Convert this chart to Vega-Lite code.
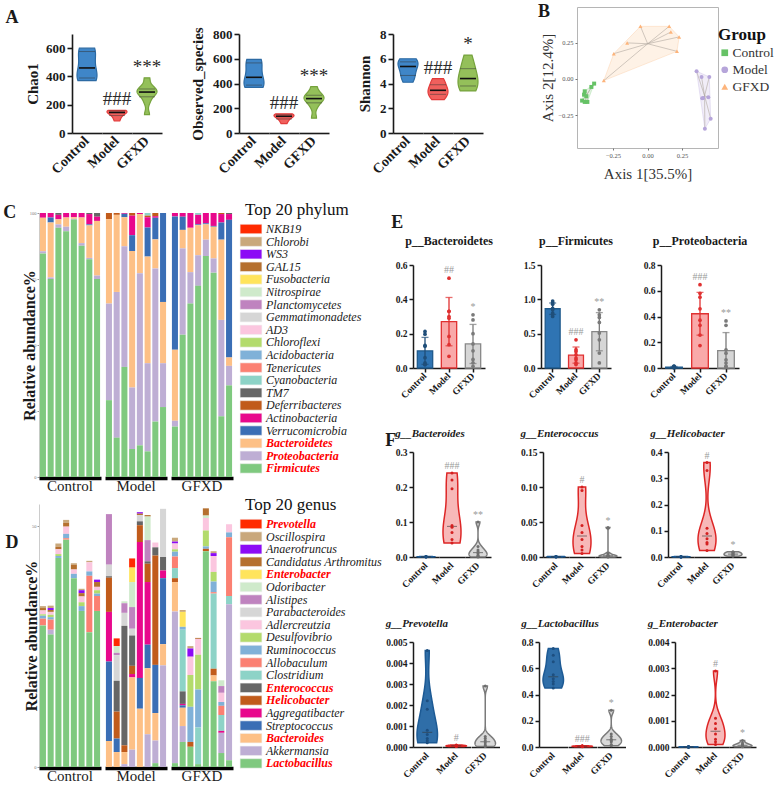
{
  "$schema": "https://vega.github.io/schema/vega-lite/v6.json",
  "background": "#ffffff",
  "padding": {"left": 3, "top": 2, "right": 0, "bottom": 0},
  "config": {
    "font": "Liberation Serif",
    "view": {"stroke": null},
    "axis": {"grid": false, "labelOverlap": false, "labelFont": "Liberation Serif", "titleFont": "Liberation Serif", "domainColor": "#1a1a1a", "tickColor": "#1a1a1a", "labelColor": "#1a1a1a", "titleColor": "#1a1a1a"},
    "header": {"labelFont": "Liberation Serif", "labelColor": "#1a1a1a"},
    "title": {"font": "Liberation Serif", "fontWeight": "bold", "color": "#1a1a1a"},
    "legend": {"labelFont": "Liberation Serif", "titleFont": "Liberation Serif"}
  },
  "datasets": {
    "alpha": [
      {"p": "Chao1", "g": "Control", "v": [370, 380, 392, 425, 495, 572, 588, 600]},
      {"p": "Chao1", "g": "Model", "sig": "###", "v": [85, 110, 128, 140, 150, 155, 158, 160]},
      {"p": "Chao1", "g": "GFXD", "sig": "***", "v": [130, 220, 268, 284, 295, 305, 330, 390]},
      {"p": "Observed_species", "g": "Control", "v": [368, 378, 390, 420, 480, 560, 585, 595]},
      {"p": "Observed_species", "g": "Model", "sig": "###", "v": [75, 100, 118, 130, 140, 146, 150, 155]},
      {"p": "Observed_species", "g": "GFXD", "sig": "***", "v": [120, 210, 255, 272, 284, 300, 320, 375]},
      {"p": "Shannon", "g": "Control", "v": [4.1, 4.5, 4.7, 5.3, 5.45, 5.7, 5.9, 6.0]},
      {"p": "Shannon", "g": "Model", "sig": "###", "v": [2.7, 2.9, 3.2, 3.4, 3.5, 3.8, 4.2, 4.4]},
      {"p": "Shannon", "g": "GFXD", "sig": "*", "v": [3.4, 3.5, 3.9, 4.3, 4.5, 5.1, 5.5, 6.3]}
    ],
    "pcoa": [
      {"g": "Control", "x": -0.386, "y": -0.032}, {"g": "Control", "x": -0.406, "y": -0.055},
      {"g": "Control", "x": -0.454, "y": -0.085}, {"g": "Control", "x": -0.459, "y": -0.108},
      {"g": "Control", "x": -0.442, "y": -0.119}, {"g": "Control", "x": -0.473, "y": -0.149},
      {"g": "Control", "x": -0.454, "y": -0.158}, {"g": "Control", "x": -0.435, "y": -0.158},
      {"g": "Model", "x": 0.355, "y": 0.053}, {"g": "Model", "x": 0.391, "y": 0.014},
      {"g": "Model", "x": 0.447, "y": 0.014}, {"g": "Model", "x": 0.403, "y": -0.131},
      {"g": "Model", "x": 0.44, "y": -0.126}, {"g": "Model", "x": 0.457, "y": -0.273},
      {"g": "Model", "x": 0.415, "y": -0.342}, {"g": "Model", "x": 0.396, "y": -0.133},
      {"g": "GFXD", "x": -0.051, "y": 0.362}, {"g": "GFXD", "x": 0.157, "y": 0.362},
      {"g": "GFXD", "x": 0.169, "y": 0.323}, {"g": "GFXD", "x": 0.229, "y": 0.289},
      {"g": "GFXD", "x": -0.147, "y": 0.248}, {"g": "GFXD", "x": -0.244, "y": 0.174},
      {"g": "GFXD", "x": 0.213, "y": 0.19}, {"g": "GFXD", "x": -0.316, "y": -0.011}
    ],
    "hull": [
      {"g": "Control", "i": 1, "x": -0.386, "y": -0.032}, {"g": "Control", "i": 2, "x": -0.454, "y": -0.085},
      {"g": "Control", "i": 3, "x": -0.473, "y": -0.149}, {"g": "Control", "i": 4, "x": -0.454, "y": -0.158},
      {"g": "Control", "i": 5, "x": -0.435, "y": -0.158}, {"g": "Control", "i": 6, "x": -0.386, "y": -0.032},
      {"g": "Model", "i": 1, "x": 0.355, "y": 0.053}, {"g": "Model", "i": 2, "x": 0.415, "y": -0.342},
      {"g": "Model", "i": 3, "x": 0.457, "y": -0.273}, {"g": "Model", "i": 4, "x": 0.447, "y": 0.014},
      {"g": "Model", "i": 5, "x": 0.355, "y": 0.053},
      {"g": "GFXD", "i": 1, "x": -0.316, "y": -0.011}, {"g": "GFXD", "i": 2, "x": 0.213, "y": 0.19},
      {"g": "GFXD", "i": 3, "x": 0.229, "y": 0.289}, {"g": "GFXD", "i": 4, "x": 0.157, "y": 0.362},
      {"g": "GFXD", "i": 5, "x": -0.051, "y": 0.362}, {"g": "GFXD", "i": 6, "x": -0.244, "y": 0.174},
      {"g": "GFXD", "i": 7, "x": -0.316, "y": -0.011}
    ],
    "phylumRank": [
      {"taxon": "Firmicutes", "r": 1}, {"taxon": "Proteobacteria", "r": 2}, {"taxon": "Bacteroidetes", "r": 3},
      {"taxon": "Verrucomicrobia", "r": 4}, {"taxon": "Actinobacteria", "r": 5}, {"taxon": "Deferribacteres", "r": 6},
      {"taxon": "TM7", "r": 7}, {"taxon": "Cyanobacteria", "r": 8}, {"taxon": "Tenericutes", "r": 9},
      {"taxon": "Acidobacteria", "r": 10}, {"taxon": "Chloroflexi", "r": 11}, {"taxon": "AD3", "r": 12},
      {"taxon": "Gemmatimonadetes", "r": 13}, {"taxon": "Planctomycetes", "r": 14}, {"taxon": "Nitrospirae", "r": 15},
      {"taxon": "Fusobacteria", "r": 16}, {"taxon": "GAL15", "r": 17}, {"taxon": "WS3", "r": 18},
      {"taxon": "Chlorobi", "r": 19}, {"taxon": "NKB19", "r": 20}
    ],
    "genusRank": [
      {"taxon": "Lactobacillus", "r": 1}, {"taxon": "Akkermansia", "r": 2}, {"taxon": "Bacteroides", "r": 3},
      {"taxon": "Streptococcus", "r": 4}, {"taxon": "Aggregatibacter", "r": 5}, {"taxon": "Helicobacter", "r": 6},
      {"taxon": "Enterococcus", "r": 7}, {"taxon": "Clostridium", "r": 8}, {"taxon": "Allobaculum", "r": 9},
      {"taxon": "Ruminococcus", "r": 10}, {"taxon": "Desulfovibrio", "r": 11}, {"taxon": "Adlercreutzia", "r": 12},
      {"taxon": "Parabacteroides", "r": 13}, {"taxon": "Alistipes", "r": 14}, {"taxon": "Odoribacter", "r": 15},
      {"taxon": "Enterobacter", "r": 16}, {"taxon": "Candidatus Arthromitus", "r": 17}, {"taxon": "Anaerotruncus", "r": 18},
      {"taxon": "Oscillospira", "r": 19}, {"taxon": "Prevotella", "r": 20}
    ],
    "phylum": [
      {"s": "C1", "grp": "Control", "Firmicutes": 84.7, "Proteobacteria": 0.8, "Bacteroidetes": 12.7, "Actinobacteria": 1.8},
      {"s": "C2", "grp": "Control", "Firmicutes": 75.0, "Proteobacteria": 0.6, "Bacteroidetes": 20.8, "Verrucomicrobia": 1.9, "Actinobacteria": 1.7},
      {"s": "C3", "grp": "Control", "Firmicutes": 94.4, "Proteobacteria": 1.3, "Bacteroidetes": 1.9, "Actinobacteria": 1.7, "TM7": 0.7},
      {"s": "C4", "grp": "Control", "Firmicutes": 93.1, "Proteobacteria": 1.7, "Bacteroidetes": 3.5, "Actinobacteria": 1.7},
      {"s": "C5", "grp": "Control", "Firmicutes": 97.5, "Proteobacteria": 0.3, "Bacteroidetes": 0.6, "Actinobacteria": 1.6},
      {"s": "C6", "grp": "Control", "Firmicutes": 87.6, "Proteobacteria": 1.0, "Bacteroidetes": 9.7, "Actinobacteria": 1.7},
      {"s": "C7", "grp": "Control", "Firmicutes": 82.5, "Proteobacteria": 0.5, "Bacteroidetes": 12.3, "Verrucomicrobia": 0.4, "Actinobacteria": 3.9, "TM7": 0.4},
      {"s": "C8", "grp": "Control", "Firmicutes": 75.0, "Proteobacteria": 1.3, "Bacteroidetes": 20.7, "Actinobacteria": 1.6, "TM7": 1.4},
      {"s": "M1", "grp": "Model", "Firmicutes": 29.1, "Proteobacteria": 36.6, "Bacteroidetes": 32.0, "Deferribacteres": 2.3},
      {"s": "M2", "grp": "Model", "Firmicutes": 14.9, "Proteobacteria": 55.2, "Bacteroidetes": 29.2, "Deferribacteres": 0.7},
      {"s": "M3", "grp": "Model", "Firmicutes": 41.7, "Proteobacteria": 45.7, "Bacteroidetes": 11.0, "Verrucomicrobia": 1.3, "Actinobacteria": 0.3},
      {"s": "M4", "grp": "Model", "Firmicutes": 10.6, "Proteobacteria": 23.3, "Bacteroidetes": 51.7, "Verrucomicrobia": 6.0, "Actinobacteria": 7.4, "Deferribacteres": 1.0},
      {"s": "M5", "grp": "Model", "Firmicutes": 12.0, "Proteobacteria": 65.2, "Bacteroidetes": 22.4, "Actinobacteria": 0.4},
      {"s": "M6", "grp": "Model", "Firmicutes": 9.7, "Proteobacteria": 33.4, "Bacteroidetes": 40.4, "Verrucomicrobia": 11.0, "Actinobacteria": 3.9, "Cyanobacteria": 1.0, "Deferribacteres": 0.6},
      {"s": "M7", "grp": "Model", "Firmicutes": 21.0, "Proteobacteria": 58.0, "Bacteroidetes": 11.0, "Verrucomicrobia": 8.2, "Actinobacteria": 0.6, "Deferribacteres": 1.2},
      {"s": "M8", "grp": "Model", "Firmicutes": 26.5, "Proteobacteria": 16.6, "Bacteroidetes": 23.2, "Verrucomicrobia": 33.7},
      {"s": "G1", "grp": "GFXD", "Firmicutes": 19.1, "Proteobacteria": 2.2, "Bacteroidetes": 26.9, "Verrucomicrobia": 50.5, "Actinobacteria": 1.3},
      {"s": "G2", "grp": "GFXD", "Firmicutes": 53.9, "Proteobacteria": 32.7, "Bacteroidetes": 7.0, "Verrucomicrobia": 5.0, "Actinobacteria": 1.4},
      {"s": "G3", "grp": "GFXD", "Firmicutes": 65.7, "Proteobacteria": 11.9, "Bacteroidetes": 16.8, "Actinobacteria": 5.6},
      {"s": "G4", "grp": "GFXD", "Firmicutes": 72.4, "Proteobacteria": 11.6, "Bacteroidetes": 11.4, "Verrucomicrobia": 0.3, "Actinobacteria": 3.6, "Cyanobacteria": 0.7},
      {"s": "G5", "grp": "GFXD", "Firmicutes": 83.7, "Proteobacteria": 6.2, "Bacteroidetes": 5.8, "Verrucomicrobia": 0.4, "Actinobacteria": 3.9},
      {"s": "G6", "grp": "GFXD", "Firmicutes": 77.4, "Proteobacteria": 5.4, "Bacteroidetes": 12.0, "Verrucomicrobia": 0.3, "Actinobacteria": 4.9},
      {"s": "G7", "grp": "GFXD", "Firmicutes": 23.0, "Proteobacteria": 36.5, "Bacteroidetes": 30.4, "Verrucomicrobia": 6.5, "Actinobacteria": 3.2, "Deferribacteres": 0.4},
      {"s": "G8", "grp": "GFXD", "Firmicutes": 34.7, "Proteobacteria": 7.4, "Bacteroidetes": 3.2, "Verrucomicrobia": 52.1, "Actinobacteria": 2.2, "TM7": 0.4}
    ],
    "genus": [
      {"s": "C1", "grp": "Control", "Lactobacillus": 29.4, "Allobaculum": 1.4, "Ruminococcus": 0.6, "Desulfovibrio": 0.3, "Adlercreutzia": 0.8, "Candidatus Arthromitus": 0.5, "Oscillospira": 0.4},
      {"s": "C2", "grp": "Control", "Lactobacillus": 27.5, "Akkermansia": 1.0, "Allobaculum": 2.1, "Ruminococcus": 0.5, "Desulfovibrio": 0.5, "Adlercreutzia": 0.6, "Candidatus Arthromitus": 0.4, "Anaerotruncus": 0.4, "Oscillospira": 0.5},
      {"s": "C3", "grp": "Control", "Lactobacillus": 43.4, "Ruminococcus": 0.4, "Desulfovibrio": 0.4, "Adlercreutzia": 1.0, "Candidatus Arthromitus": 0.5, "Oscillospira": 0.7},
      {"s": "C4", "grp": "Control", "Lactobacillus": 47.2, "Allobaculum": 0.3, "Ruminococcus": 0.9, "Adlercreutzia": 1.5, "Candidatus Arthromitus": 0.8, "Oscillospira": 0.6},
      {"s": "C5", "grp": "Control", "Lactobacillus": 39.2, "Ruminococcus": 0.9, "Adlercreutzia": 0.9, "Candidatus Arthromitus": 1.0, "Oscillospira": 0.3},
      {"s": "C6", "grp": "Control", "Lactobacillus": 32.4, "Ruminococcus": 1.0, "Desulfovibrio": 0.8, "Adlercreutzia": 1.2, "Candidatus Arthromitus": 0.7, "Anaerotruncus": 0.6, "Oscillospira": 0.3},
      {"s": "C7", "grp": "Control", "Lactobacillus": 28.0, "Allobaculum": 11.7, "Ruminococcus": 0.9, "Adlercreutzia": 1.9, "Oscillospira": 0.3},
      {"s": "C8", "grp": "Control", "Lactobacillus": 32.4, "Allobaculum": 3.1, "Ruminococcus": 0.5, "Desulfovibrio": 0.7, "Adlercreutzia": 0.7, "Candidatus Arthromitus": 1.0, "Anaerotruncus": 0.5},
      {"s": "M1", "grp": "Model", "Bacteroides": 5.4, "Streptococcus": 16.5, "Aggregatibacter": 10.3, "Helicobacter": 7.1, "Enterococcus": 0.3, "Parabacteroides": 2.4, "Alistipes": 10.5},
      {"s": "M2", "grp": "Model", "Bacteroides": 3.1, "Streptococcus": 2.8, "Helicobacter": 5.6, "Enterococcus": 6.4, "Parabacteroides": 5.3, "Alistipes": 0.5, "Odoribacter": 1.4, "Prevotella": 1.6},
      {"s": "M3", "grp": "Model", "Akkermansia": 0.6, "Bacteroides": 2.5, "Helicobacter": 1.4, "Enterococcus": 24.8, "Parabacteroides": 2.7, "Alistipes": 2.0, "Odoribacter": 0.4},
      {"s": "M4", "grp": "Model", "Akkermansia": 3.6, "Bacteroides": 15.0, "Aggregatibacter": 0.7, "Helicobacter": 1.7, "Enterococcus": 6.3, "Parabacteroides": 1.4, "Alistipes": 4.5, "Odoribacter": 5.2, "Enterobacter": 3.0, "Prevotella": 1.9},
      {"s": "M5", "grp": "Model", "Bacteroides": 12.1, "Streptococcus": 6.4, "Aggregatibacter": 28.2, "Helicobacter": 3.5, "Enterococcus": 0.8, "Parabacteroides": 1.3, "Candidatus Arthromitus": 0.3, "Anaerotruncus": 0.3},
      {"s": "M6", "grp": "Model", "Akkermansia": 6.8, "Bacteroides": 13.7, "Streptococcus": 4.9, "Aggregatibacter": 13.0, "Helicobacter": 3.8, "Enterococcus": 0.5, "Alistipes": 4.4, "Odoribacter": 4.9, "Candidatus Arthromitus": 0.3},
      {"s": "M7", "grp": "Model", "Lactobacillus": 0.8, "Akkermansia": 4.7, "Bacteroides": 5.7, "Streptococcus": 10.0, "Helicobacter": 22.7, "Enterococcus": 1.7, "Adlercreutzia": 1.0},
      {"s": "M8", "grp": "Model", "Akkermansia": 21.1, "Bacteroides": 4.4, "Streptococcus": 13.7, "Aggregatibacter": 1.6, "Enterococcus": 2.8, "Parabacteroides": 10.0},
      {"s": "G1", "grp": "GFXD", "Lactobacillus": 0.8, "Akkermansia": 31.5, "Bacteroides": 6.1, "Helicobacter": 0.8, "Clostridium": 2.1, "Allobaculum": 2.4, "Ruminococcus": 1.0, "Desulfovibrio": 0.5, "Adlercreutzia": 1.2, "Anaerotruncus": 0.4, "Oscillospira": 0.8},
      {"s": "G2", "grp": "GFXD", "Lactobacillus": 5.2, "Akkermansia": 3.3, "Bacteroides": 3.8, "Streptococcus": 0.5, "Aggregatibacter": 0.3, "Enterococcus": 2.6, "Clostridium": 12.8, "Ruminococcus": 0.6, "Enterobacter": 3.1, "Oscillospira": 0.4},
      {"s": "G3", "grp": "GFXD", "Lactobacillus": 4.2, "Helicobacter": 1.0, "Ruminococcus": 7.3, "Desulfovibrio": 6.6, "Adlercreutzia": 3.8, "Anaerotruncus": 1.7, "Oscillospira": 0.5},
      {"s": "G4", "grp": "GFXD", "Lactobacillus": 0.6, "Clostridium": 7.6, "Ruminococcus": 7.9, "Desulfovibrio": 7.2, "Adlercreutzia": 3.3, "Candidatus Arthromitus": 0.2},
      {"s": "G5", "grp": "GFXD", "Lactobacillus": 44.8, "Helicobacter": 0.5, "Ruminococcus": 0.5, "Desulfovibrio": 3.3, "Adlercreutzia": 2.6, "Odoribacter": 0.5, "Candidatus Arthromitus": 1.5},
      {"s": "G6", "grp": "GFXD", "Lactobacillus": 17.8, "Bacteroides": 1.2, "Helicobacter": 1.4, "Clostridium": 15.6, "Allobaculum": 0.3, "Ruminococcus": 2.2, "Desulfovibrio": 2.0, "Adlercreutzia": 3.3, "Anaerotruncus": 0.6, "Oscillospira": 0.4},
      {"s": "G7", "grp": "GFXD", "Lactobacillus": 2.9, "Akkermansia": 4.2, "Aggregatibacter": 0.4, "Clostridium": 3.3, "Allobaculum": 1.9, "Ruminococcus": 0.8, "Adlercreutzia": 1.9, "Alistipes": 1.4, "Odoribacter": 1.2},
      {"s": "G8", "grp": "GFXD", "Lactobacillus": 1.4, "Akkermansia": 32.4, "Clostridium": 1.7, "Allobaculum": 12.2, "Ruminococcus": 1.0, "Adlercreutzia": 1.7}
    ],
    "rel": [
      {"p": "p__Bacteroidetes", "g": "Control", "v": [0.197, 0.213, 0.132, 0.126, 0.06, 0.03, 0.02, 0.02]},
      {"p": "p__Bacteroidetes", "g": "Model", "sig": "##", "v": [0.523, 0.33, 0.3, 0.29, 0.184, 0.136, 0.068, 0.33]},
      {"p": "p__Bacteroidetes", "g": "GFXD", "sig": "*", "v": [0.31, 0.28, 0.2, 0.14, 0.1, 0.05, 0.03, 0.01]},
      {"p": "p__Firmicutes", "g": "Control", "v": [0.93, 0.95, 0.975, 0.87, 0.85, 0.8, 0.75, 0.78]},
      {"p": "p__Firmicutes", "g": "Model", "sig": "###", "v": [0.411, 0.266, 0.242, 0.194, 0.145, 0.121, 0.073, 0.05]},
      {"p": "p__Firmicutes", "g": "GFXD", "sig": "**", "v": [0.847, 0.774, 0.736, 0.663, 0.508, 0.411, 0.218, 0.073]},
      {"p": "p__Proteobacteria", "g": "Control", "v": [0.015, 0.012, 0.01, 0.008, 0.005, 0.004, 0.003, 0.002]},
      {"p": "p__Proteobacteria", "g": "Model", "sig": "###", "v": [0.647, 0.58, 0.55, 0.46, 0.371, 0.332, 0.256, 0.174]},
      {"p": "p__Proteobacteria", "g": "GFXD", "sig": "**", "v": [0.366, 0.332, 0.141, 0.115, 0.064, 0.038, 0.013, 0.01]},
      {"p": "g__Bacteroides", "g": "Control", "v": [0.0002, 0.0004, 0.0005, 0.0006, 0.0008, 0.001, 0.0012, 0.0015]},
      {"p": "g__Bacteroides", "g": "Model", "sig": "###", "v": [0.04, 0.05, 0.07, 0.085, 0.09, 0.195, 0.22, 0.24]},
      {"p": "g__Bacteroides", "g": "GFXD", "sig": "**", "v": [0.0, 0.002, 0.005, 0.01, 0.015, 0.02, 0.03, 0.1]},
      {"p": "g__Enterococcus", "g": "Control", "v": [0.0001, 0.0002, 0.0003, 0.0004, 0.0005, 0.0006, 0.0007, 0.0008]},
      {"p": "g__Enterococcus", "g": "Model", "sig": "#", "v": [0.005, 0.01, 0.015, 0.025, 0.035, 0.045, 0.095, 0.1]},
      {"p": "g__Enterococcus", "g": "GFXD", "sig": "*", "v": [0.0, 0.0005, 0.001, 0.0015, 0.002, 0.003, 0.005, 0.042]},
      {"p": "g__Helicobacter", "g": "Control", "v": [0.0002, 0.0004, 0.0006, 0.0008, 0.001, 0.0012, 0.0014, 0.0016]},
      {"p": "g__Helicobacter", "g": "Model", "sig": "#", "v": [0.025, 0.05, 0.055, 0.07, 0.09, 0.11, 0.33, 0.36]},
      {"p": "g__Helicobacter", "g": "GFXD", "sig": "*", "v": [0.003, 0.005, 0.008, 0.01, 0.012, 0.015, 0.018, 0.02]},
      {"p": "g__Prevotella", "g": "Control", "v": [0.0002, 0.0003, 0.0004, 0.0006, 0.0008, 0.0018, 0.0022, 0.0046]},
      {"p": "g__Prevotella", "g": "Model", "sig": "#", "v": [0.00002, 0.00003, 0.00004, 0.00005, 0.00006, 0.00007, 0.00008, 0.0001]},
      {"p": "g__Prevotella", "g": "GFXD", "v": [0.00002, 0.00005, 0.0001, 0.0002, 0.0003, 0.0004, 0.0005, 0.0029]},
      {"p": "g__Lactobacillus", "g": "Control", "v": [0.45, 0.48, 0.5, 0.52, 0.55, 0.65, 0.7, 0.75]},
      {"p": "g__Lactobacillus", "g": "Model", "sig": "###", "v": [0.002, 0.003, 0.004, 0.005, 0.006, 0.007, 0.008, 0.01]},
      {"p": "g__Lactobacillus", "g": "GFXD", "sig": "*", "v": [0.01, 0.02, 0.04, 0.05, 0.06, 0.08, 0.1, 0.28]},
      {"p": "g_Enterobacter", "g": "Control", "v": [0.000001, 0.000002, 0.000003, 0.000004, 0.000005, 0.000006, 0.000007, 0.000008]},
      {"p": "g_Enterobacter", "g": "Model", "sig": "#", "v": [0.0001, 0.0002, 0.0003, 0.0005, 0.0007, 0.0009, 0.0011, 0.0029]},
      {"p": "g_Enterobacter", "g": "GFXD", "sig": "*", "v": [0.00001, 0.00002, 0.00003, 0.00005, 0.00008, 0.0001, 0.00015, 0.00025]}
    ]
  },
  "resolve": {"scale": {"color": "independent", "fill": "independent", "stroke": "independent", "shape": "independent"}},
  "columns": 1,
  "align": "none",
  "spacing": 20,
  "concat": [
    {
      "resolve": {"scale": {"color": "independent", "fill": "independent", "stroke": "independent", "shape": "independent"}},
      "columns": 2, "align": "none", "spacing": 1,
      "concat": [
        {"width": 1, "height": 1, "data": {"values": []}, "mark": {"type": "point", "opacity": 0}},
        {
          "resolve": {"scale": {"color": "independent", "fill": "independent", "stroke": "independent", "shape": "independent"}},
          "columns": 2, "align": "none", "spacing": 54,
          "concat": [
            {
              "columns": 1, "align": "none", "spacing": 0,
              "concat": [
                {"width": 1, "height": 1, "data": {"values": []}, "mark": {"type": "point", "opacity": 0}},
                {
                  "title": {"text": "A", "anchor": "start", "frame": "bounds", "fontSize": 18, "dx": -20, "offset": 0},
                  "columns": 3, "align": "none", "spacing": 28,
                  "concat": [
                    {
                      "data": {"name": "alpha"},
                      "transform": [{"filter": "datum.p == 'Chao1'"}, {"flatten": ["v"]}],
                      "facet": {"column": {"field": "g", "type": "nominal", "sort": ["Control", "Model", "GFXD"], "title": null,
                        "header": {"labelOrient": "bottom", "labelAngle": -45, "labelAlign": "right", "labelBaseline": "middle", "labelFontSize": 14, "labelFontWeight": "bold", "labelPadding": 6}}},
                      "spacing": 0,
                      "resolve": {"scale": {"x": "independent"}},
                      "spec": {
                        "width": 30, "height": 99,
                        "layer": [
                          {"transform": [{"density": "v", "groupby": ["g"], "as": ["v", "d"]}],
                           "mark": {"type": "area", "orient": "horizontal", "strokeWidth": 1.2},
                           "encoding": {
                             "y": {"field": "v", "type": "quantitative", "scale": {"domain": [0, 700], "nice": false},
                               "axis": {"title": "Chao1", "titleFontSize": 15, "titleFontWeight": "bold", "titlePadding": 5, "labelFontSize": 13, "labelFontWeight": "bold", "tickCount": 12, "values": [0, 200, 400, 600], "domainWidth": 1.6, "tickWidth": 1.6, "tickSize": 5, "labelPadding": 2}},
                             "x": {"field": "d", "type": "quantitative", "stack": "center", "impute": null, "scale": {"zero": false, "nice": false, "padding": 5},
                               "axis": {"title": null, "labels": false, "ticks": false, "domainWidth": 1.6}},
                             "fill": {"field": "g", "type": "nominal", "scale": {"domain": ["Control", "Model", "GFXD"], "range": ["#3f86c8", "#f0605d", "#94c05a"]}, "legend": null},
                             "stroke": {"field": "g", "type": "nominal", "scale": {"domain": ["Control", "Model", "GFXD"], "range": ["#2c6aa3", "#e23b3b", "#75a23c"]}, "legend": null}
                           }},
                          {"mark": {"type": "tick", "orient": "horizontal", "size": 16, "thickness": 1.6, "color": "#111"},
                           "encoding": {"y": {"aggregate": "median", "field": "v", "type": "quantitative"}}},
                          {"mark": {"type": "tick", "orient": "horizontal", "size": 16, "thickness": 1, "color": "#333", "opacity": 0.5},
                           "encoding": {"y": {"aggregate": "q1", "field": "v", "type": "quantitative"}}},
                          {"mark": {"type": "tick", "orient": "horizontal", "size": 16, "thickness": 1, "color": "#333", "opacity": 0.5},
                           "encoding": {"y": {"aggregate": "q3", "field": "v", "type": "quantitative"}}},
                          {"transform": [{"filter": "isValid(datum.sig)"}, {"aggregate": [{"op": "max", "field": "v", "as": "top"}], "groupby": ["g", "sig"]}],
                           "mark": {"type": "text", "baseline": "bottom", "dy": -1, "fontSize": 19, "color": "#2a2a2a"},
                           "encoding": {"y": {"field": "top", "type": "quantitative"}, "text": {"field": "sig", "type": "nominal"}}}
                        ]
                      }
                    },
                    {
                      "data": {"name": "alpha"},
                      "transform": [{"filter": "datum.p == 'Observed_species'"}, {"flatten": ["v"]}],
                      "facet": {"column": {"field": "g", "type": "nominal", "sort": ["Control", "Model", "GFXD"], "title": null,
                        "header": {"labelOrient": "bottom", "labelAngle": -45, "labelAlign": "right", "labelBaseline": "middle", "labelFontSize": 14, "labelFontWeight": "bold", "labelPadding": 6}}},
                      "spacing": 0,
                      "resolve": {"scale": {"x": "independent"}},
                      "spec": {
                        "width": 30, "height": 99,
                        "layer": [
                          {"transform": [{"density": "v", "groupby": ["g"], "as": ["v", "d"]}],
                           "mark": {"type": "area", "orient": "horizontal", "strokeWidth": 1.2},
                           "encoding": {
                             "y": {"field": "v", "type": "quantitative", "scale": {"domain": [0, 800], "nice": false},
                               "axis": {"title": "Observed_species", "titleFontSize": 15, "titleFontWeight": "bold", "titlePadding": 7, "labelFontSize": 13, "labelFontWeight": "bold", "tickCount": 12, "values": [0, 200, 400, 600, 800], "domainWidth": 1.6, "tickWidth": 1.6, "tickSize": 5, "labelPadding": 2}},
                             "x": {"field": "d", "type": "quantitative", "stack": "center", "impute": null, "scale": {"zero": false, "nice": false, "padding": 5},
                               "axis": {"title": null, "labels": false, "ticks": false, "domainWidth": 1.6}},
                             "fill": {"field": "g", "type": "nominal", "scale": {"domain": ["Control", "Model", "GFXD"], "range": ["#3f86c8", "#f0605d", "#94c05a"]}, "legend": null},
                             "stroke": {"field": "g", "type": "nominal", "scale": {"domain": ["Control", "Model", "GFXD"], "range": ["#2c6aa3", "#e23b3b", "#75a23c"]}, "legend": null}
                           }},
                          {"mark": {"type": "tick", "orient": "horizontal", "size": 16, "thickness": 1.6, "color": "#111"},
                           "encoding": {"y": {"aggregate": "median", "field": "v", "type": "quantitative"}}},
                          {"mark": {"type": "tick", "orient": "horizontal", "size": 16, "thickness": 1, "color": "#333", "opacity": 0.5},
                           "encoding": {"y": {"aggregate": "q1", "field": "v", "type": "quantitative"}}},
                          {"mark": {"type": "tick", "orient": "horizontal", "size": 16, "thickness": 1, "color": "#333", "opacity": 0.5},
                           "encoding": {"y": {"aggregate": "q3", "field": "v", "type": "quantitative"}}},
                          {"transform": [{"filter": "isValid(datum.sig)"}, {"aggregate": [{"op": "max", "field": "v", "as": "top"}], "groupby": ["g", "sig"]}],
                           "mark": {"type": "text", "baseline": "bottom", "dy": -1, "fontSize": 19, "color": "#2a2a2a"},
                           "encoding": {"y": {"field": "top", "type": "quantitative"}, "text": {"field": "sig", "type": "nominal"}}}
                        ]
                      }
                    },
                    {
                      "data": {"name": "alpha"},
                      "transform": [{"filter": "datum.p == 'Shannon'"}, {"flatten": ["v"]}],
                      "facet": {"column": {"field": "g", "type": "nominal", "sort": ["Control", "Model", "GFXD"], "title": null,
                        "header": {"labelOrient": "bottom", "labelAngle": -45, "labelAlign": "right", "labelBaseline": "middle", "labelFontSize": 14, "labelFontWeight": "bold", "labelPadding": 6}}},
                      "spacing": 0,
                      "resolve": {"scale": {"x": "independent"}},
                      "spec": {
                        "width": 30, "height": 99,
                        "layer": [
                          {"transform": [{"density": "v", "groupby": ["g"], "as": ["v", "d"]}],
                           "mark": {"type": "area", "orient": "horizontal", "strokeWidth": 1.2},
                           "encoding": {
                             "y": {"field": "v", "type": "quantitative", "scale": {"domain": [0, 8], "nice": false},
                               "axis": {"title": "Shannon", "titleFontSize": 15, "titleFontWeight": "bold", "titlePadding": 7, "labelFontSize": 13, "labelFontWeight": "bold", "tickCount": 12, "values": [0, 2, 4, 6, 8], "format": "d", "domainWidth": 1.6, "tickWidth": 1.6, "tickSize": 5, "labelPadding": 2}},
                             "x": {"field": "d", "type": "quantitative", "stack": "center", "impute": null, "scale": {"zero": false, "nice": false, "padding": 5},
                               "axis": {"title": null, "labels": false, "ticks": false, "domainWidth": 1.6}},
                             "fill": {"field": "g", "type": "nominal", "scale": {"domain": ["Control", "Model", "GFXD"], "range": ["#3f86c8", "#f0605d", "#94c05a"]}, "legend": null},
                             "stroke": {"field": "g", "type": "nominal", "scale": {"domain": ["Control", "Model", "GFXD"], "range": ["#2c6aa3", "#e23b3b", "#75a23c"]}, "legend": null}
                           }},
                          {"mark": {"type": "tick", "orient": "horizontal", "size": 16, "thickness": 1.6, "color": "#111"},
                           "encoding": {"y": {"aggregate": "median", "field": "v", "type": "quantitative"}}},
                          {"mark": {"type": "tick", "orient": "horizontal", "size": 16, "thickness": 1, "color": "#333", "opacity": 0.5},
                           "encoding": {"y": {"aggregate": "q1", "field": "v", "type": "quantitative"}}},
                          {"mark": {"type": "tick", "orient": "horizontal", "size": 16, "thickness": 1, "color": "#333", "opacity": 0.5},
                           "encoding": {"y": {"aggregate": "q3", "field": "v", "type": "quantitative"}}},
                          {"transform": [{"filter": "isValid(datum.sig)"}, {"aggregate": [{"op": "max", "field": "v", "as": "top"}], "groupby": ["g", "sig"]}],
                           "mark": {"type": "text", "baseline": "bottom", "dy": -1, "fontSize": 19, "color": "#2a2a2a"},
                           "encoding": {"y": {"field": "top", "type": "quantitative"}, "text": {"field": "sig", "type": "nominal"}}}
                        ]
                      }
                    }
                  ]
                }
              ]
            },
            {
              "title": {"text": "B", "anchor": "start", "frame": "bounds", "fontSize": 18, "offset": -14, "dx": -3},
              "width": 141, "height": 141,
              "view": {"stroke": "#b5b5b5", "strokeWidth": 1},
              "layer": [
                {"data": {"name": "hull"},
                 "transform": [{"filter": "datum.g == 'Control'"}],
                 "mark": {"type": "line", "fill": "#a6dba0", "stroke": "#8fd18f", "strokeWidth": 0.6, "fillOpacity": 0.3, "strokeOpacity": 0.6},
                 "encoding": {
                   "x": {"field": "x", "type": "quantitative", "scale": {"domain": [-0.51, 0.51], "nice": false, "zero": false},
                     "axis": {"title": "Axis 1[35.5%]", "titleFontSize": 15, "titleFontWeight": "normal", "titleColor": "#333", "titlePadding": 8, "values": [-0.25, 0, 0.25], "format": ".2f", "labelFontSize": 6.5, "labelColor": "#555", "tickSize": 2, "tickColor": "#777", "domain": false, "labelPadding": 2}},
                   "y": {"field": "y", "type": "quantitative", "scale": {"domain": [-0.475, 0.495], "nice": false, "zero": false},
                     "axis": {"title": "Axis 2[12.4%]", "titleFontSize": 15, "titleFontWeight": "normal", "titleColor": "#333", "titlePadding": 2, "values": [-0.25, 0, 0.25], "format": ".2f", "labelFontSize": 6.5, "labelColor": "#555", "tickSize": 2, "tickColor": "#777", "domain": false, "labelPadding": 2}},
                   "order": {"field": "i", "type": "quantitative"}
                 }},
                {"data": {"name": "hull"},
                 "transform": [{"filter": "datum.g == 'Model'"}],
                 "mark": {"type": "line", "fill": "#cfc2e8", "stroke": "#c2b4e0", "strokeWidth": 0.6, "fillOpacity": 0.3, "strokeOpacity": 0.6},
                 "encoding": {
                   "x": {"field": "x", "type": "quantitative"}, "y": {"field": "y", "type": "quantitative"},
                   "order": {"field": "i", "type": "quantitative"}
                 }},
                {"data": {"name": "hull"},
                 "transform": [{"filter": "datum.g == 'GFXD'"}],
                 "mark": {"type": "line", "fill": "#fcd3ad", "stroke": "#f8c597", "strokeWidth": 0.6, "fillOpacity": 0.3, "strokeOpacity": 0.6},
                 "encoding": {
                   "x": {"field": "x", "type": "quantitative"}, "y": {"field": "y", "type": "quantitative"},
                   "order": {"field": "i", "type": "quantitative"}
                 }},
                {"data": {"name": "pcoa"},
                 "transform": [{"joinaggregate": [{"op": "mean", "field": "x", "as": "cx"}, {"op": "mean", "field": "y", "as": "cy"}], "groupby": ["g"]}],
                 "mark": {"type": "rule", "color": "#b0a8a0", "strokeWidth": 0.6},
                 "encoding": {
                   "x": {"field": "x", "type": "quantitative"}, "y": {"field": "y", "type": "quantitative"},
                   "x2": {"field": "cx"}, "y2": {"field": "cy"}
                 }},
                {"data": {"name": "pcoa"},
                 "mark": {"type": "point", "filled": true, "size": 16, "opacity": 1},
                 "encoding": {
                   "x": {"field": "x", "type": "quantitative"}, "y": {"field": "y", "type": "quantitative"},
                   "color": {"field": "g", "type": "nominal", "scale": {"domain": ["Control", "Model", "GFXD"], "range": ["#66c266", "#b6a5da", "#fdb47b"]},
                     "legend": {"title": ["", "Group"], "titleLineHeight": 20, "orient": "right", "offset": 0, "titleFontSize": 17, "titleFontWeight": "bold", "titleColor": "#111", "labelFontSize": 13.5, "labelColor": "#333", "symbolSize": 45, "padding": 0, "rowPadding": 2, "labelOffset": 1, "titlePadding": 2}},
                   "shape": {"field": "g", "type": "nominal", "scale": {"domain": ["Control", "Model", "GFXD"], "range": ["square", "circle", "triangle-up"]},
                     "legend": {"title": ["", "Group"], "titleLineHeight": 20, "orient": "right", "offset": 0, "titleFontSize": 17, "titleFontWeight": "bold", "titleColor": "#111", "labelFontSize": 13.5, "labelColor": "#333", "symbolSize": 45, "padding": 0, "rowPadding": 2, "labelOffset": 1, "titlePadding": 2}}
                 }}
              ]
            }
          ]
        }
      ]
    },
    {
      "resolve": {"scale": {"color": "independent", "fill": "independent", "stroke": "independent", "shape": "independent"}},
      "columns": 2, "align": "none", "spacing": -1,
      "concat": [
        {"width": 1, "height": 1, "data": {"values": []}, "mark": {"type": "point", "opacity": 0}},
        {
          "resolve": {"scale": {"color": "independent", "fill": "independent", "stroke": "independent", "shape": "independent"}},
          "columns": 2, "align": "none", "spacing": 3,
          "concat": [
            {
              "resolve": {"scale": {"color": "independent", "fill": "independent", "stroke": "independent", "shape": "independent"}},
              "columns": 1, "align": "none", "spacing": 3,
              "concat": [
                {
                  "title": {"text": "C", "orient": "left", "angle": 0, "anchor": "end", "frame": "group", "align": "right", "baseline": "top", "fontSize": 18, "offset": -8, "dy": -9},
                  "data": {"name": "phylum"},
                  "transform": [
                    {"fold": ["NKB19", "Chlorobi", "WS3", "GAL15", "Fusobacteria", "Nitrospirae", "Planctomycetes", "Gemmatimonadetes", "AD3", "Chloroflexi", "Acidobacteria", "Tenericutes", "Cyanobacteria", "TM7", "Deferribacteres", "Actinobacteria", "Verrucomicrobia", "Bacteroidetes", "Proteobacteria", "Firmicutes"], "as": ["taxon", "pct"]},
                    {"filter": "isValid(datum.pct)"},
                    {"lookup": "taxon", "from": {"data": {"name": "phylumRank"}, "key": "taxon", "fields": ["r"]}}
                  ],
                  "facet": {"column": {"field": "grp", "type": "nominal", "sort": ["Control", "Model", "GFXD"], "title": null,
                    "header": {"labelOrient": "bottom", "labelFontSize": 15, "labelPadding": 1}}},
                  "spacing": 4,
                  "resolve": {"scale": {"x": "independent"}},
                  "spec": {
                    "width": 62, "height": 264,
                    "mark": {"type": "bar"},
                    "encoding": {
                      "x": {"field": "s", "type": "nominal", "scale": {"paddingInner": 0.22, "paddingOuter": 0.12},
                        "axis": {"title": null, "labels": false, "ticks": false, "domainWidth": 3.5, "domainColor": "#000000", "offset": 1}},
                      "y": {"field": "pct", "type": "quantitative", "stack": "zero", "scale": {"domain": [0, 100], "nice": false},
                        "axis": {"title": "Relative abundance%", "titleFontSize": 16, "titleFontWeight": "bold", "titlePadding": -8, "labelFontSize": 4.5, "labelColor": "#777", "tickSize": 2, "tickColor": "#999", "domainColor": "#cccccc", "tickCount": 12, "values": [0, 25, 50, 75, 100], "labelPadding": 1}},
                      "color": {"field": "taxon", "type": "nominal",
                        "scale": {"domain": ["NKB19", "Chlorobi", "WS3", "GAL15", "Fusobacteria", "Nitrospirae", "Planctomycetes", "Gemmatimonadetes", "AD3", "Chloroflexi", "Acidobacteria", "Tenericutes", "Cyanobacteria", "TM7", "Deferribacteres", "Actinobacteria", "Verrucomicrobia", "Bacteroidetes", "Proteobacteria", "Firmicutes"],
                          "range": ["#ff2a00", "#c9a87c", "#8c0bf5", "#b5702f", "#ffe45c", "#cfeacb", "#bf83bf", "#d6d6d6", "#fbc6df", "#b3db6c", "#80b1d8", "#fb8072", "#8dd3c7", "#666666", "#c15b1b", "#e8088c", "#3a6eb5", "#fdc086", "#beaed4", "#7fc97f"]},
                        "legend": {"title": "Top 20 phylum", "orient": "none", "legendX": 206, "legendY": -11, "titleFontSize": 17, "titleFontWeight": "normal", "titleColor": "#111", "titlePadding": 4,
                          "labelFontSize": 12, "labelFontStyle": "italic", "labelLimit": 240, "labelOffset": 9,
                          "labelColor": {"expr": "indexof(['Bacteroidetes','Proteobacteria','Firmicutes'], datum.label) >= 0 ? '#ff0000' : '#222222'"},
                          "labelFontWeight": {"expr": "indexof(['Bacteroidetes','Proteobacteria','Firmicutes'], datum.label) >= 0 ? 'bold' : 'normal'"},
                          "symbolType": "M-2.3,-1H2.3V1H-2.3Z", "symbolSize": 90, "symbolStrokeColor": "#f2f2f2", "symbolStrokeWidth": 0.6, "rowPadding": 0.6, "padding": 0}},
                      "order": {"field": "r", "type": "quantitative"}
                    }
                  }
                },
                {
                  "title": {"text": "D", "orient": "left", "angle": 0, "anchor": "end", "frame": "group", "align": "right", "baseline": "top", "fontSize": 18, "offset": -8, "dy": 30},
                  "data": {"name": "genus"},
                  "transform": [
                    {"fold": ["Prevotella", "Oscillospira", "Anaerotruncus", "Candidatus Arthromitus", "Enterobacter", "Odoribacter", "Alistipes", "Parabacteroides", "Adlercreutzia", "Desulfovibrio", "Ruminococcus", "Allobaculum", "Clostridium", "Enterococcus", "Helicobacter", "Aggregatibacter", "Streptococcus", "Bacteroides", "Akkermansia", "Lactobacillus"], "as": ["taxon", "pct"]},
                    {"filter": "isValid(datum.pct)"},
                    {"lookup": "taxon", "from": {"data": {"name": "genusRank"}, "key": "taxon", "fields": ["r"]}}
                  ],
                  "facet": {"column": {"field": "grp", "type": "nominal", "sort": ["Control", "Model", "GFXD"], "title": null,
                    "header": {"labelOrient": "bottom", "labelFontSize": 15, "labelPadding": 1}}},
                  "spacing": 4,
                  "resolve": {"scale": {"x": "independent"}},
                  "spec": {
                    "width": 62, "height": 263,
                    "mark": {"type": "bar"},
                    "encoding": {
                      "x": {"field": "s", "type": "nominal", "scale": {"paddingInner": 0.22, "paddingOuter": 0.12},
                        "axis": {"title": null, "labels": false, "ticks": false, "domainWidth": 3.5, "domainColor": "#000000", "offset": 1}},
                      "y": {"field": "pct", "type": "quantitative", "stack": "zero", "scale": {"domain": [0, 54.6], "nice": false},
                        "axis": {"title": "Relative abundance%", "titleFontSize": 16, "titleFontWeight": "bold", "titlePadding": -8, "labelFontSize": 4.5, "labelColor": "#777", "tickSize": 2, "tickColor": "#999", "domainColor": "#cccccc", "tickCount": 12, "values": [0, 50], "labelPadding": 1}},
                      "color": {"field": "taxon", "type": "nominal",
                        "scale": {"domain": ["Prevotella", "Oscillospira", "Anaerotruncus", "Candidatus Arthromitus", "Enterobacter", "Odoribacter", "Alistipes", "Parabacteroides", "Adlercreutzia", "Desulfovibrio", "Ruminococcus", "Allobaculum", "Clostridium", "Enterococcus", "Helicobacter", "Aggregatibacter", "Streptococcus", "Bacteroides", "Akkermansia", "Lactobacillus"],
                          "range": ["#ff2a00", "#c9a87c", "#8c0bf5", "#b5702f", "#ffe45c", "#cfeacb", "#bf83bf", "#d6d6d6", "#fbc6df", "#b3db6c", "#80b1d8", "#fb8072", "#8dd3c7", "#666666", "#c15b1b", "#e8088c", "#3a6eb5", "#fdc086", "#beaed4", "#7fc97f"]},
                        "legend": {"title": "Top 20 genus", "orient": "none", "legendX": 206, "legendY": -7, "titleFontSize": 17, "titleFontWeight": "normal", "titleColor": "#111", "titlePadding": 4,
                          "labelFontSize": 12, "labelFontStyle": "italic", "labelLimit": 240, "labelOffset": 9,
                          "labelColor": {"expr": "indexof(['Prevotella','Enterobacter','Enterococcus','Helicobacter','Bacteroides','Lactobacillus'], datum.label) >= 0 ? '#ff0000' : '#222222'"},
                          "labelFontWeight": {"expr": "indexof(['Prevotella','Enterobacter','Enterococcus','Helicobacter','Bacteroides','Lactobacillus'], datum.label) >= 0 ? 'bold' : 'normal'"},
                          "symbolType": "M-2.3,-1H2.3V1H-2.3Z", "symbolSize": 90, "symbolStrokeColor": "#f2f2f2", "symbolStrokeWidth": 0.6, "rowPadding": 0.6, "padding": 0}},
                      "order": {"field": "r", "type": "quantitative"}
                    }
                  }
                }
              ]
            },
            {
              "resolve": {"scale": {"color": "independent", "fill": "independent", "stroke": "independent", "shape": "independent"}},
              "columns": 1, "align": "none", "spacing": 0,
              "concat": [
                {"width": 1, "height": 1, "data": {"values": []}, "mark": {"type": "point", "opacity": 0}},
                {
                  "resolve": {"scale": {"color": "independent", "fill": "independent", "stroke": "independent", "shape": "independent"}},
                  "columns": 1, "align": "none", "spacing": 28,
                  "concat": [
                    {
                      "title": {"text": "E", "anchor": "start", "frame": "bounds", "fontSize": 18, "dx": -4, "offset": 3},
                      "resolve": {"scale": {"color": "independent", "fill": "independent", "stroke": "independent"}},
                      "columns": 3, "align": "none", "spacing": 30,
                      "concat": [
                        {
                          "title": {"text": "p__Bacteroidetes", "fontSize": 12, "offset": 12},
                          "width": 72, "height": 103,
                          "data": {"name": "rel"},
                          "transform": [{"filter": "datum.p == 'p__Bacteroidetes'"}, {"flatten": ["v"]}],
                          "encoding": {"x": {"field": "g", "type": "nominal", "sort": ["Control", "Model", "GFXD"], "scale": {"paddingInner": 0.36, "paddingOuter": 0.18},
                            "axis": {"title": null, "labelAngle": -45, "labelAlign": "right", "labelBaseline": "middle", "labelFontSize": 9.5, "labelFontWeight": "bold", "domainWidth": 1.5, "tickWidth": 1.5, "tickSize": 4, "labelPadding": 2}}},
                          "layer": [
                            {"mark": {"type": "bar", "strokeWidth": 1.3},
                             "encoding": {
                               "y": {"aggregate": "mean", "field": "v", "type": "quantitative", "scale": {"domain": [0, 0.6], "nice": false},
                                 "axis": {"title": null, "tickCount": 12, "values": [0, 0.2, 0.4, 0.6], "format": ".1f", "labelFontSize": 9.5, "labelFontWeight": "bold", "domainWidth": 1.5, "tickWidth": 1.5, "tickSize": 4, "labelPadding": 2}},
                               "fill": {"field": "g", "type": "nominal", "scale": {"domain": ["Control", "Model", "GFXD"], "range": ["#2f74b3", "#f9a9a9", "#d6d6d6"]}, "legend": null},
                               "stroke": {"field": "g", "type": "nominal", "scale": {"domain": ["Control", "Model", "GFXD"], "range": ["#1f5a8c", "#e03131", "#888888"]}, "legend": null}
                             }},
                            {"mark": {"type": "errorbar", "extent": "stdev", "ticks": {"size": 7}, "thickness": 1.3},
                             "encoding": {"y": {"field": "v", "type": "quantitative"},
                               "color": {"field": "g", "type": "nominal", "scale": {"domain": ["Control", "Model", "GFXD"], "range": ["#1f4e79", "#e03131", "#7a7a7a"]}, "legend": null}}},
                            {"mark": {"type": "circle", "size": 14, "opacity": 1},
                             "encoding": {"y": {"field": "v", "type": "quantitative"},
                               "color": {"field": "g", "type": "nominal", "scale": {"domain": ["Control", "Model", "GFXD"], "range": ["#1f4e79", "#e03131", "#7a7a7a"]}, "legend": null}}},
                            {"transform": [{"filter": "isValid(datum.sig)"}, {"aggregate": [{"op": "max", "field": "v", "as": "top"}], "groupby": ["g", "sig"]}],
                             "mark": {"type": "text", "baseline": "bottom", "dy": -3, "fontSize": 10, "color": "#9a9a9a"},
                             "encoding": {"y": {"field": "top", "type": "quantitative"}, "text": {"field": "sig", "type": "nominal"}}}
                          ]
                        },
                        {
                          "title": {"text": "p__Firmicutes", "fontSize": 12, "offset": 12},
                          "width": 70, "height": 103,
                          "data": {"name": "rel"},
                          "transform": [{"filter": "datum.p == 'p__Firmicutes'"}, {"flatten": ["v"]}],
                          "encoding": {"x": {"field": "g", "type": "nominal", "sort": ["Control", "Model", "GFXD"], "scale": {"paddingInner": 0.36, "paddingOuter": 0.18},
                            "axis": {"title": null, "labelAngle": -45, "labelAlign": "right", "labelBaseline": "middle", "labelFontSize": 9.5, "labelFontWeight": "bold", "domainWidth": 1.5, "tickWidth": 1.5, "tickSize": 4, "labelPadding": 2}}},
                          "layer": [
                            {"mark": {"type": "bar", "strokeWidth": 1.3},
                             "encoding": {
                               "y": {"aggregate": "mean", "field": "v", "type": "quantitative", "scale": {"domain": [0, 1.5], "nice": false},
                                 "axis": {"title": null, "tickCount": 12, "values": [0, 0.5, 1.0, 1.5], "format": ".1f", "labelFontSize": 9.5, "labelFontWeight": "bold", "domainWidth": 1.5, "tickWidth": 1.5, "tickSize": 4, "labelPadding": 2}},
                               "fill": {"field": "g", "type": "nominal", "scale": {"domain": ["Control", "Model", "GFXD"], "range": ["#2f74b3", "#f9a9a9", "#d6d6d6"]}, "legend": null},
                               "stroke": {"field": "g", "type": "nominal", "scale": {"domain": ["Control", "Model", "GFXD"], "range": ["#1f5a8c", "#e03131", "#888888"]}, "legend": null}
                             }},
                            {"mark": {"type": "errorbar", "extent": "stdev", "ticks": {"size": 7}, "thickness": 1.3},
                             "encoding": {"y": {"field": "v", "type": "quantitative"},
                               "color": {"field": "g", "type": "nominal", "scale": {"domain": ["Control", "Model", "GFXD"], "range": ["#1f4e79", "#e03131", "#7a7a7a"]}, "legend": null}}},
                            {"mark": {"type": "circle", "size": 14, "opacity": 1},
                             "encoding": {"y": {"field": "v", "type": "quantitative"},
                               "color": {"field": "g", "type": "nominal", "scale": {"domain": ["Control", "Model", "GFXD"], "range": ["#1f4e79", "#e03131", "#7a7a7a"]}, "legend": null}}},
                            {"transform": [{"filter": "isValid(datum.sig)"}, {"aggregate": [{"op": "max", "field": "v", "as": "top"}], "groupby": ["g", "sig"]}],
                             "mark": {"type": "text", "baseline": "bottom", "dy": -3, "fontSize": 10, "color": "#9a9a9a"},
                             "encoding": {"y": {"field": "top", "type": "quantitative"}, "text": {"field": "sig", "type": "nominal"}}}
                          ]
                        },
                        {
                          "title": {"text": "p__Proteobacteria", "fontSize": 12, "offset": 12},
                          "width": 78, "height": 103,
                          "data": {"name": "rel"},
                          "transform": [{"filter": "datum.p == 'p__Proteobacteria'"}, {"flatten": ["v"]}],
                          "encoding": {"x": {"field": "g", "type": "nominal", "sort": ["Control", "Model", "GFXD"], "scale": {"paddingInner": 0.36, "paddingOuter": 0.18},
                            "axis": {"title": null, "labelAngle": -45, "labelAlign": "right", "labelBaseline": "middle", "labelFontSize": 9.5, "labelFontWeight": "bold", "domainWidth": 1.5, "tickWidth": 1.5, "tickSize": 4, "labelPadding": 2}}},
                          "layer": [
                            {"mark": {"type": "bar", "strokeWidth": 1.3},
                             "encoding": {
                               "y": {"aggregate": "mean", "field": "v", "type": "quantitative", "scale": {"domain": [0, 0.8], "nice": false},
                                 "axis": {"title": null, "tickCount": 12, "values": [0, 0.2, 0.4, 0.6, 0.8], "format": ".1f", "labelFontSize": 9.5, "labelFontWeight": "bold", "domainWidth": 1.5, "tickWidth": 1.5, "tickSize": 4, "labelPadding": 2}},
                               "fill": {"field": "g", "type": "nominal", "scale": {"domain": ["Control", "Model", "GFXD"], "range": ["#2f74b3", "#f9a9a9", "#d6d6d6"]}, "legend": null},
                               "stroke": {"field": "g", "type": "nominal", "scale": {"domain": ["Control", "Model", "GFXD"], "range": ["#1f5a8c", "#e03131", "#888888"]}, "legend": null}
                             }},
                            {"mark": {"type": "errorbar", "extent": "stdev", "ticks": {"size": 7}, "thickness": 1.3},
                             "encoding": {"y": {"field": "v", "type": "quantitative"},
                               "color": {"field": "g", "type": "nominal", "scale": {"domain": ["Control", "Model", "GFXD"], "range": ["#1f4e79", "#e03131", "#7a7a7a"]}, "legend": null}}},
                            {"mark": {"type": "circle", "size": 14, "opacity": 1},
                             "encoding": {"y": {"field": "v", "type": "quantitative"},
                               "color": {"field": "g", "type": "nominal", "scale": {"domain": ["Control", "Model", "GFXD"], "range": ["#1f4e79", "#e03131", "#7a7a7a"]}, "legend": null}}},
                            {"transform": [{"filter": "isValid(datum.sig)"}, {"aggregate": [{"op": "max", "field": "v", "as": "top"}], "groupby": ["g", "sig"]}],
                             "mark": {"type": "text", "baseline": "bottom", "dy": -3, "fontSize": 10, "color": "#9a9a9a"},
                             "encoding": {"y": {"field": "top", "type": "quantitative"}, "text": {"field": "sig", "type": "nominal"}}}
                          ]
                        }
                      ]
                    },
                    {
                      "title": {"text": "F", "anchor": "start", "frame": "bounds", "fontSize": 18, "dx": -10, "dy": 22, "offset": 0},
                      "resolve": {"scale": {"color": "independent", "fill": "independent", "stroke": "independent"}},
                      "columns": 3, "align": "none", "spacing": 29,
                      "concat": [
                        {
                          "title": {"text": "g__Bacteroides", "fontSize": 11, "fontStyle": "italic", "offset": 8},
                          "data": {"name": "rel"},
                          "transform": [{"filter": "datum.p == 'g__Bacteroides'"}, {"flatten": ["v"]}],
                          "facet": {"column": {"field": "g", "type": "nominal", "sort": ["Control", "Model", "GFXD"], "title": null,
                            "header": {"labelOrient": "bottom", "labelAngle": -45, "labelAlign": "right", "labelBaseline": "middle", "labelFontSize": 9.5, "labelFontWeight": "bold", "labelPadding": 4}}},
                          "spacing": 0,
                          "resolve": {"scale": {"x": "independent"}},
                          "spec": {
                            "width": 26, "height": 105,
                            "layer": [
                              {"transform": [{"density": "v", "groupby": ["g"], "as": ["v", "d"]}],
                               "mark": {"type": "area", "orient": "horizontal", "strokeWidth": 1.5},
                               "encoding": {
                                 "y": {"field": "v", "type": "quantitative", "scale": {"domain": [0, 0.3], "nice": false},
                                   "axis": {"title": null, "tickCount": 12, "values": [0, 0.1, 0.2, 0.3], "format": ".1f", "labelFontSize": 9.5, "labelFontWeight": "bold", "domainWidth": 1.5, "tickWidth": 1.5, "tickSize": 4, "labelPadding": 2}},
                                 "x": {"field": "d", "type": "quantitative", "stack": "center", "impute": null, "scale": {"zero": false, "nice": false, "padding": 4},
                                   "axis": {"title": null, "labels": false, "ticks": false, "domainWidth": 1.5}},
                                 "fill": {"field": "g", "type": "nominal", "scale": {"domain": ["Control", "Model", "GFXD"], "range": ["#2f6ea8", "#f7b8b8", "#d9d9d9"]}, "legend": null},
                                 "stroke": {"field": "g", "type": "nominal", "scale": {"domain": ["Control", "Model", "GFXD"], "range": ["#1d5a94", "#dd2626", "#7a7a7a"]}, "legend": null}
                               }},
                              {"mark": {"type": "tick", "orient": "horizontal", "size": 10, "thickness": 1, "color": "#333", "opacity": 0.6},
                               "encoding": {"y": {"aggregate": "median", "field": "v", "type": "quantitative"}}},
                              {"mark": {"type": "circle", "size": 9, "opacity": 1},
                               "encoding": {"y": {"field": "v", "type": "quantitative"},
                                 "color": {"field": "g", "type": "nominal", "scale": {"domain": ["Control", "Model", "GFXD"], "range": ["#1d4f80", "#d42020", "#6e6e6e"]}, "legend": null}}},
                              {"transform": [{"filter": "isValid(datum.sig)"}, {"aggregate": [{"op": "max", "field": "v", "as": "top"}], "groupby": ["g", "sig"]}],
                               "mark": {"type": "text", "baseline": "bottom", "dy": -2, "fontSize": 10, "color": "#9a9a9a"},
                               "encoding": {"y": {"field": "top", "type": "quantitative"}, "text": {"field": "sig", "type": "nominal"}}}
                            ]
                          }
                        },
                        {
                          "title": {"text": "g__Enterococcus", "fontSize": 11, "fontStyle": "italic", "offset": 8},
                          "data": {"name": "rel"},
                          "transform": [{"filter": "datum.p == 'g__Enterococcus'"}, {"flatten": ["v"]}],
                          "facet": {"column": {"field": "g", "type": "nominal", "sort": ["Control", "Model", "GFXD"], "title": null,
                            "header": {"labelOrient": "bottom", "labelAngle": -45, "labelAlign": "right", "labelBaseline": "middle", "labelFontSize": 9.5, "labelFontWeight": "bold", "labelPadding": 4}}},
                          "spacing": 0,
                          "resolve": {"scale": {"x": "independent"}},
                          "spec": {
                            "width": 26, "height": 105,
                            "layer": [
                              {"transform": [{"density": "v", "groupby": ["g"], "as": ["v", "d"]}],
                               "mark": {"type": "area", "orient": "horizontal", "strokeWidth": 1.5},
                               "encoding": {
                                 "y": {"field": "v", "type": "quantitative", "scale": {"domain": [0, 0.15], "nice": false},
                                   "axis": {"title": null, "tickCount": 12, "values": [0, 0.05, 0.1, 0.15], "format": ".2f", "labelFontSize": 9.5, "labelFontWeight": "bold", "domainWidth": 1.5, "tickWidth": 1.5, "tickSize": 4, "labelPadding": 2}},
                                 "x": {"field": "d", "type": "quantitative", "stack": "center", "impute": null, "scale": {"zero": false, "nice": false, "padding": 4},
                                   "axis": {"title": null, "labels": false, "ticks": false, "domainWidth": 1.5}},
                                 "fill": {"field": "g", "type": "nominal", "scale": {"domain": ["Control", "Model", "GFXD"], "range": ["#2f6ea8", "#f7b8b8", "#d9d9d9"]}, "legend": null},
                                 "stroke": {"field": "g", "type": "nominal", "scale": {"domain": ["Control", "Model", "GFXD"], "range": ["#1d5a94", "#dd2626", "#7a7a7a"]}, "legend": null}
                               }},
                              {"mark": {"type": "tick", "orient": "horizontal", "size": 10, "thickness": 1, "color": "#333", "opacity": 0.6},
                               "encoding": {"y": {"aggregate": "median", "field": "v", "type": "quantitative"}}},
                              {"mark": {"type": "circle", "size": 9, "opacity": 1},
                               "encoding": {"y": {"field": "v", "type": "quantitative"},
                                 "color": {"field": "g", "type": "nominal", "scale": {"domain": ["Control", "Model", "GFXD"], "range": ["#1d4f80", "#d42020", "#6e6e6e"]}, "legend": null}}},
                              {"transform": [{"filter": "isValid(datum.sig)"}, {"aggregate": [{"op": "max", "field": "v", "as": "top"}], "groupby": ["g", "sig"]}],
                               "mark": {"type": "text", "baseline": "bottom", "dy": -2, "fontSize": 10, "color": "#9a9a9a"},
                               "encoding": {"y": {"field": "top", "type": "quantitative"}, "text": {"field": "sig", "type": "nominal"}}}
                            ]
                          }
                        },
                        {
                          "title": {"text": "g__Helicobacter", "fontSize": 11, "fontStyle": "italic", "offset": 8},
                          "data": {"name": "rel"},
                          "transform": [{"filter": "datum.p == 'g__Helicobacter'"}, {"flatten": ["v"]}],
                          "facet": {"column": {"field": "g", "type": "nominal", "sort": ["Control", "Model", "GFXD"], "title": null,
                            "header": {"labelOrient": "bottom", "labelAngle": -45, "labelAlign": "right", "labelBaseline": "middle", "labelFontSize": 9.5, "labelFontWeight": "bold", "labelPadding": 4}}},
                          "spacing": 0,
                          "resolve": {"scale": {"x": "independent"}},
                          "spec": {
                            "width": 26, "height": 105,
                            "layer": [
                              {"transform": [{"density": "v", "groupby": ["g"], "as": ["v", "d"]}],
                               "mark": {"type": "area", "orient": "horizontal", "strokeWidth": 1.5},
                               "encoding": {
                                 "y": {"field": "v", "type": "quantitative", "scale": {"domain": [0, 0.4], "nice": false},
                                   "axis": {"title": null, "tickCount": 12, "values": [0, 0.1, 0.2, 0.3, 0.4], "format": ".1f", "labelFontSize": 9.5, "labelFontWeight": "bold", "domainWidth": 1.5, "tickWidth": 1.5, "tickSize": 4, "labelPadding": 2}},
                                 "x": {"field": "d", "type": "quantitative", "stack": "center", "impute": null, "scale": {"zero": false, "nice": false, "padding": 4},
                                   "axis": {"title": null, "labels": false, "ticks": false, "domainWidth": 1.5}},
                                 "fill": {"field": "g", "type": "nominal", "scale": {"domain": ["Control", "Model", "GFXD"], "range": ["#2f6ea8", "#f7b8b8", "#d9d9d9"]}, "legend": null},
                                 "stroke": {"field": "g", "type": "nominal", "scale": {"domain": ["Control", "Model", "GFXD"], "range": ["#1d5a94", "#dd2626", "#7a7a7a"]}, "legend": null}
                               }},
                              {"mark": {"type": "tick", "orient": "horizontal", "size": 10, "thickness": 1, "color": "#333", "opacity": 0.6},
                               "encoding": {"y": {"aggregate": "median", "field": "v", "type": "quantitative"}}},
                              {"mark": {"type": "circle", "size": 9, "opacity": 1},
                               "encoding": {"y": {"field": "v", "type": "quantitative"},
                                 "color": {"field": "g", "type": "nominal", "scale": {"domain": ["Control", "Model", "GFXD"], "range": ["#1d4f80", "#d42020", "#6e6e6e"]}, "legend": null}}},
                              {"transform": [{"filter": "isValid(datum.sig)"}, {"aggregate": [{"op": "max", "field": "v", "as": "top"}], "groupby": ["g", "sig"]}],
                               "mark": {"type": "text", "baseline": "bottom", "dy": -2, "fontSize": 10, "color": "#9a9a9a"},
                               "encoding": {"y": {"field": "top", "type": "quantitative"}, "text": {"field": "sig", "type": "nominal"}}}
                            ]
                          }
                        }
                      ]
                    },
                    {
                      "resolve": {"scale": {"color": "independent", "fill": "independent", "stroke": "independent"}},
                      "columns": 3, "align": "none", "spacing": 21,
                      "concat": [
                        {
                          "title": {"text": "g__Prevotella", "fontSize": 11, "fontStyle": "italic", "offset": 8},
                          "data": {"name": "rel"},
                          "transform": [{"filter": "datum.p == 'g__Prevotella'"}, {"flatten": ["v"]}],
                          "facet": {"column": {"field": "g", "type": "nominal", "sort": ["Control", "Model", "GFXD"], "title": null,
                            "header": {"labelOrient": "bottom", "labelAngle": -45, "labelAlign": "right", "labelBaseline": "middle", "labelFontSize": 9.5, "labelFontWeight": "bold", "labelPadding": 4}}},
                          "spacing": 0,
                          "resolve": {"scale": {"x": "independent"}},
                          "spec": {
                            "width": 28.5, "height": 105,
                            "layer": [
                              {"transform": [{"density": "v", "groupby": ["g"], "as": ["v", "d"]}],
                               "mark": {"type": "area", "orient": "horizontal", "strokeWidth": 1.5},
                               "encoding": {
                                 "y": {"field": "v", "type": "quantitative", "scale": {"domain": [0, 0.005], "nice": false},
                                   "axis": {"title": null, "tickCount": 12, "values": [0, 0.001, 0.002, 0.003, 0.004, 0.005], "format": ".3f", "labelFontSize": 9.5, "labelFontWeight": "bold", "domainWidth": 1.5, "tickWidth": 1.5, "tickSize": 4, "labelPadding": 2}},
                                 "x": {"field": "d", "type": "quantitative", "stack": "center", "impute": null, "scale": {"zero": false, "nice": false, "padding": 4},
                                   "axis": {"title": null, "labels": false, "ticks": false, "domainWidth": 1.5}},
                                 "fill": {"field": "g", "type": "nominal", "scale": {"domain": ["Control", "Model", "GFXD"], "range": ["#2f6ea8", "#f7b8b8", "#d9d9d9"]}, "legend": null},
                                 "stroke": {"field": "g", "type": "nominal", "scale": {"domain": ["Control", "Model", "GFXD"], "range": ["#1d5a94", "#dd2626", "#7a7a7a"]}, "legend": null}
                               }},
                              {"mark": {"type": "tick", "orient": "horizontal", "size": 10, "thickness": 1, "color": "#333", "opacity": 0.6},
                               "encoding": {"y": {"aggregate": "median", "field": "v", "type": "quantitative"}}},
                              {"mark": {"type": "circle", "size": 9, "opacity": 1},
                               "encoding": {"y": {"field": "v", "type": "quantitative"},
                                 "color": {"field": "g", "type": "nominal", "scale": {"domain": ["Control", "Model", "GFXD"], "range": ["#1d4f80", "#d42020", "#6e6e6e"]}, "legend": null}}},
                              {"transform": [{"filter": "isValid(datum.sig)"}, {"aggregate": [{"op": "max", "field": "v", "as": "top"}], "groupby": ["g", "sig"]}],
                               "mark": {"type": "text", "baseline": "bottom", "dy": -2, "fontSize": 10, "color": "#9a9a9a"},
                               "encoding": {"y": {"field": "top", "type": "quantitative"}, "text": {"field": "sig", "type": "nominal"}}}
                            ]
                          }
                        },
                        {
                          "title": {"text": "g__Lactobacillus", "fontSize": 11, "fontStyle": "italic", "offset": 8},
                          "data": {"name": "rel"},
                          "transform": [{"filter": "datum.p == 'g__Lactobacillus'"}, {"flatten": ["v"]}],
                          "facet": {"column": {"field": "g", "type": "nominal", "sort": ["Control", "Model", "GFXD"], "title": null,
                            "header": {"labelOrient": "bottom", "labelAngle": -45, "labelAlign": "right", "labelBaseline": "middle", "labelFontSize": 9.5, "labelFontWeight": "bold", "labelPadding": 4}}},
                          "spacing": 0,
                          "resolve": {"scale": {"x": "independent"}},
                          "spec": {
                            "width": 28.5, "height": 105,
                            "layer": [
                              {"transform": [{"density": "v", "groupby": ["g"], "as": ["v", "d"]}],
                               "mark": {"type": "area", "orient": "horizontal", "strokeWidth": 1.5},
                               "encoding": {
                                 "y": {"field": "v", "type": "quantitative", "scale": {"domain": [0, 0.8], "nice": false},
                                   "axis": {"title": null, "tickCount": 12, "values": [0, 0.2, 0.4, 0.6, 0.8], "format": ".1f", "labelFontSize": 9.5, "labelFontWeight": "bold", "domainWidth": 1.5, "tickWidth": 1.5, "tickSize": 4, "labelPadding": 2}},
                                 "x": {"field": "d", "type": "quantitative", "stack": "center", "impute": null, "scale": {"zero": false, "nice": false, "padding": 4},
                                   "axis": {"title": null, "labels": false, "ticks": false, "domainWidth": 1.5}},
                                 "fill": {"field": "g", "type": "nominal", "scale": {"domain": ["Control", "Model", "GFXD"], "range": ["#2f6ea8", "#f7b8b8", "#d9d9d9"]}, "legend": null},
                                 "stroke": {"field": "g", "type": "nominal", "scale": {"domain": ["Control", "Model", "GFXD"], "range": ["#1d5a94", "#dd2626", "#7a7a7a"]}, "legend": null}
                               }},
                              {"mark": {"type": "tick", "orient": "horizontal", "size": 10, "thickness": 1, "color": "#333", "opacity": 0.6},
                               "encoding": {"y": {"aggregate": "median", "field": "v", "type": "quantitative"}}},
                              {"mark": {"type": "circle", "size": 9, "opacity": 1},
                               "encoding": {"y": {"field": "v", "type": "quantitative"},
                                 "color": {"field": "g", "type": "nominal", "scale": {"domain": ["Control", "Model", "GFXD"], "range": ["#1d4f80", "#d42020", "#6e6e6e"]}, "legend": null}}},
                              {"transform": [{"filter": "isValid(datum.sig)"}, {"aggregate": [{"op": "max", "field": "v", "as": "top"}], "groupby": ["g", "sig"]}],
                               "mark": {"type": "text", "baseline": "bottom", "dy": -2, "fontSize": 10, "color": "#9a9a9a"},
                               "encoding": {"y": {"field": "top", "type": "quantitative"}, "text": {"field": "sig", "type": "nominal"}}}
                            ]
                          }
                        },
                        {
                          "title": {"text": "g_Enterobacter", "fontSize": 11, "fontStyle": "italic", "offset": 8},
                          "data": {"name": "rel"},
                          "transform": [{"filter": "datum.p == 'g_Enterobacter'"}, {"flatten": ["v"]}],
                          "facet": {"column": {"field": "g", "type": "nominal", "sort": ["Control", "Model", "GFXD"], "title": null,
                            "header": {"labelOrient": "bottom", "labelAngle": -45, "labelAlign": "right", "labelBaseline": "middle", "labelFontSize": 9.5, "labelFontWeight": "bold", "labelPadding": 4}}},
                          "spacing": 0,
                          "resolve": {"scale": {"x": "independent"}},
                          "spec": {
                            "width": 27, "height": 105,
                            "layer": [
                              {"transform": [{"density": "v", "groupby": ["g"], "as": ["v", "d"]}],
                               "mark": {"type": "area", "orient": "horizontal", "strokeWidth": 1.5},
                               "encoding": {
                                 "y": {"field": "v", "type": "quantitative", "scale": {"domain": [0, 0.004], "nice": false},
                                   "axis": {"title": null, "tickCount": 12, "values": [0, 0.001, 0.002, 0.003, 0.004], "format": ".3f", "labelFontSize": 9.5, "labelFontWeight": "bold", "domainWidth": 1.5, "tickWidth": 1.5, "tickSize": 4, "labelPadding": 2}},
                                 "x": {"field": "d", "type": "quantitative", "stack": "center", "impute": null, "scale": {"zero": false, "nice": false, "padding": 4},
                                   "axis": {"title": null, "labels": false, "ticks": false, "domainWidth": 1.5}},
                                 "fill": {"field": "g", "type": "nominal", "scale": {"domain": ["Control", "Model", "GFXD"], "range": ["#2f6ea8", "#f7b8b8", "#d9d9d9"]}, "legend": null},
                                 "stroke": {"field": "g", "type": "nominal", "scale": {"domain": ["Control", "Model", "GFXD"], "range": ["#1d5a94", "#dd2626", "#7a7a7a"]}, "legend": null}
                               }},
                              {"mark": {"type": "tick", "orient": "horizontal", "size": 10, "thickness": 1, "color": "#333", "opacity": 0.6},
                               "encoding": {"y": {"aggregate": "median", "field": "v", "type": "quantitative"}}},
                              {"mark": {"type": "circle", "size": 9, "opacity": 1},
                               "encoding": {"y": {"field": "v", "type": "quantitative"},
                                 "color": {"field": "g", "type": "nominal", "scale": {"domain": ["Control", "Model", "GFXD"], "range": ["#1d4f80", "#d42020", "#6e6e6e"]}, "legend": null}}},
                              {"transform": [{"filter": "isValid(datum.sig)"}, {"aggregate": [{"op": "max", "field": "v", "as": "top"}], "groupby": ["g", "sig"]}],
                               "mark": {"type": "text", "baseline": "bottom", "dy": -2, "fontSize": 10, "color": "#9a9a9a"},
                               "encoding": {"y": {"field": "top", "type": "quantitative"}, "text": {"field": "sig", "type": "nominal"}}}
                            ]
                          }
                        }
                      ]
                    }
                  ]
                }
              ]
            }
          ]
        }
      ]
    }
  ]
}
